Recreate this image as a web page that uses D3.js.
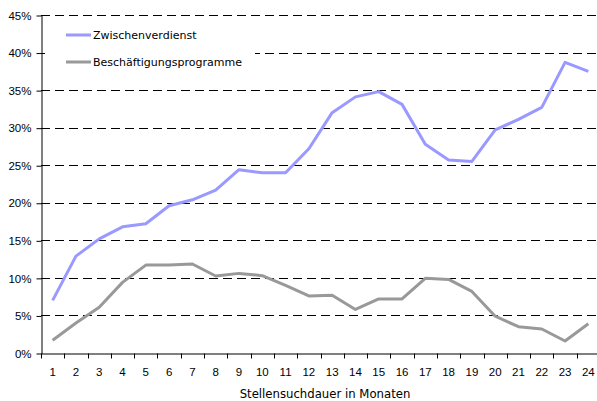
<!DOCTYPE html>
<html>
<head>
<meta charset="utf-8">
<script src="https://cdn.jsdelivr.net/npm/d3@7"></script>
<style>
    body { margin: 0; background: #fff; }
    svg { display: block; font-family: "DejaVu Sans", Verdana, sans-serif; }
    .grid line { stroke: #000; stroke-dasharray: 9,5; }
    .axis path, .axis line { stroke: #000; }
    .axis text { font-size: 11.5px; fill: #000; }
</style>
</head>
<body>
<script>
//chart data
var months = d3.range(1, 25);
var zwischenverdienst = [7.0, 12.9, 15.2, 16.8, 17.2, 19.6, 20.4, 21.7, 24.4, 24.0, 24.0, 27.2,
    32.0, 34.1, 34.8, 33.1, 27.8, 25.7, 25.5, 29.7, 31.1, 32.7, 38.7, 37.5];
var beschaeftigung = [1.7, 4.0, 6.1, 9.4, 11.7, 11.7, 11.85, 10.25, 10.6, 10.3, 9.0, 7.6,
    7.7, 5.8, 7.2, 7.2, 9.95, 9.8, 8.2, 4.9, 3.5, 3.2, 1.6, 3.9];
var yTicks = [0, 5, 10, 15, 20, 25, 30, 35, 40, 45];
var seriesNames = ["Zwischenverdienst", "Beschäftigungsprogramme"];
var seriesColors = ["#9999ff", "#999999"];

(function(){
    var width = 597, height = 401;
    var left = 41, right = 600, top = 15, bottom = 353;

    var svg = d3.select("body").append("svg")
        .attr("width", width)
        .attr("height", height);

    var x = d3.scaleBand().domain(months).range([left, right]);
    var y = d3.scaleLinear().domain([0, 45]).range([bottom, top]);

    //dashed gridlines
    svg.append("g").attr("class", "grid")
        .selectAll("line")
        .data(yTicks.filter(function(d){ return d > 0; }))
        .enter().append("line")
        .attr("x1", left)
        .attr("x2", width)
        .attr("y1", function(d){ return Math.round(y(d)) + 0.5; })
        .attr("y2", function(d){ return Math.round(y(d)) + 0.5; });

    //lines
    var line = d3.line()
        .x(function(d, i){ return x(months[i]) + x.bandwidth() / 2; })
        .y(function(d){ return y(d); });

    [zwischenverdienst, beschaeftigung].forEach(function(s, i){
        svg.append("path")
            .datum(s)
            .attr("fill", "none")
            .attr("stroke", seriesColors[i])
            .attr("stroke-width", 3)
            .attr("stroke-linejoin", "round")
            .attr("d", line);
    });

    //legend
    var legend = svg.append("g");
    legend.append("rect")
        .attr("x", 45).attr("y", 22).attr("width", 210).attr("height", 50)
        .attr("fill", "#fff");
    seriesNames.forEach(function(n, i){
        var ly = 35 + i * 27;
        legend.append("line")
            .attr("x1", 66).attr("x2", 91)
            .attr("y1", ly).attr("y2", ly)
            .attr("stroke", seriesColors[i])
            .attr("stroke-width", 3);
        legend.append("text")
            .attr("x", 93).attr("y", ly + 4)
            .attr("font-size", "11px")
            .text(n);
    });

    //y axis
    svg.append("g").attr("class", "axis")
        .attr("transform", "translate(" + (left + 0.5) + ",0.5)")
        .call(d3.axisLeft(y).tickValues(yTicks).tickSize(5).tickSizeOuter(0)
            .tickFormat(function(d){ return d + "%"; }))
        .selectAll("text").attr("dx", "-2");

    //x axis
    var xAxis = svg.append("g").attr("class", "axis")
        .attr("transform", "translate(0," + (bottom + 0.5) + ")")
        .call(d3.axisBottom(x).tickSize(0).tickSizeOuter(0).tickPadding(14));
    xAxis.selectAll(".tick line").remove();
    xAxis.selectAll(".boundary")
        .data(months)
        .enter().append("line")
        .attr("x1", function(d){ return Math.round(x(d)) + 0.5; })
        .attr("x2", function(d){ return Math.round(x(d)) + 0.5; })
        .attr("y1", 0).attr("y2", 5)
        .attr("stroke", "#000");

    svg.append("text")
        .attr("x", 325).attr("y", 398)
        .attr("text-anchor", "middle")
        .attr("font-size", "11.7px")
        .text("Stellensuchdauer in Monaten");
})();
</script>
</body>
</html>
